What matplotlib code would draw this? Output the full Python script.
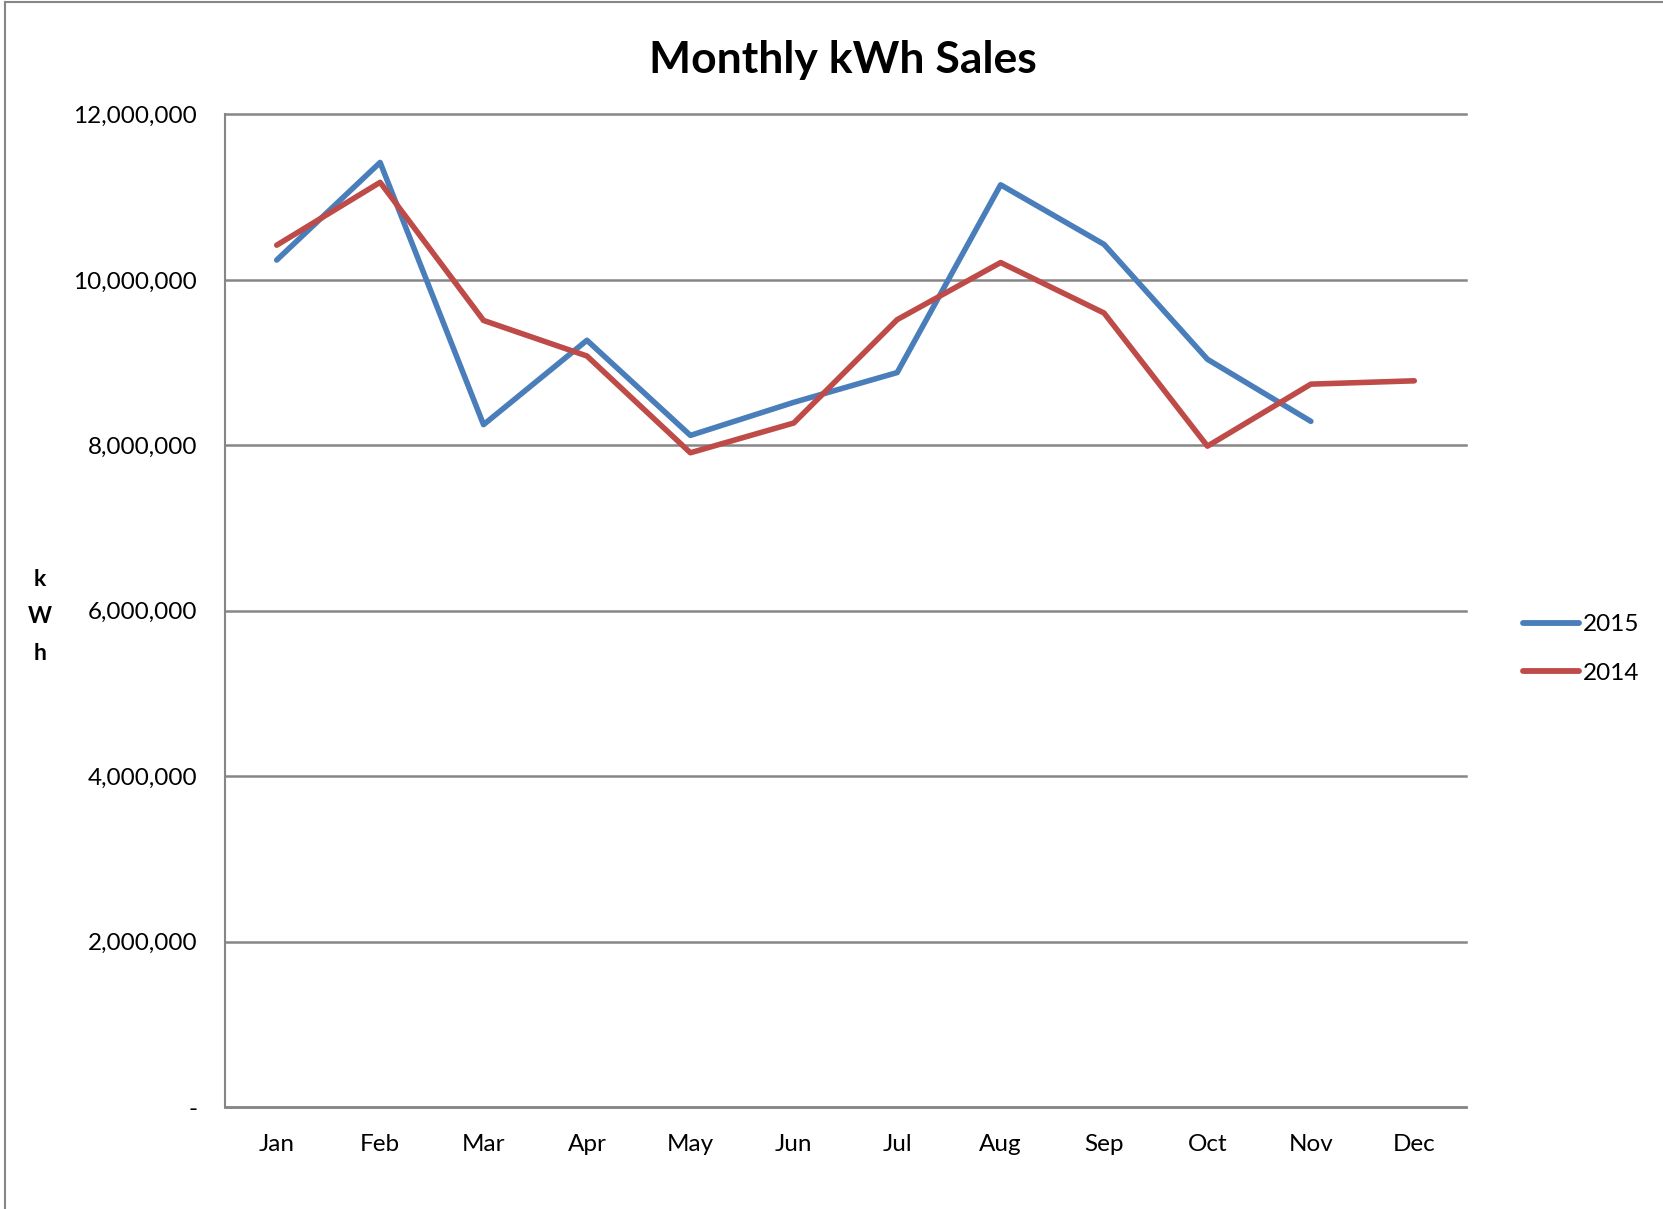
import matplotlib
matplotlib.use("Agg")
import matplotlib.pyplot as plt
from matplotlib.ticker import FuncFormatter
from matplotlib.lines import Line2D
import numpy as np

plt.rcParams['font.family'] = ['Lato', 'DejaVu Sans']

months = ["Jan", "Feb", "Mar", "Apr", "May", "Jun", "Jul", "Aug", "Sep", "Oct", "Nov", "Dec"]
sales_2015 = [10240000, 11420000, 8250000, 9270000, 8120000, 8520000, 8880000,
              11150000, 10430000, 9040000, 8290000]
sales_2014 = [10420000, 11180000, 9510000, 9080000, 7910000, 8270000, 9520000,
              10210000, 9600000, 7990000, 8740000, 8780000]
yticks = [0, 2000000, 4000000, 6000000, 8000000, 10000000, 12000000]

W, H = 1663, 1209
fig = plt.figure(figsize=(W / 100, H / 100), dpi=100)

# outer chart frame
fig.add_artist(Line2D([5 / W, 5 / W], [0, 1 - 2 / H], transform=fig.transFigure, color="#868686", lw=1.5))
fig.add_artist(Line2D([5 / W, 1], [1 - 2 / H, 1 - 2 / H], transform=fig.transFigure, color="#868686", lw=1.5))

left, right, top, bottom = 225, 1466, 114.5, 1107
ax = fig.add_axes([left / W, 1 - bottom / H, (right - left) / W, (bottom - top) / H])

x = np.arange(len(months))
ax.plot(x[:len(sales_2015)], sales_2015, color="#4A7EBB", lw=4.0, label="2015",
        solid_capstyle="round", zorder=3)
ax.plot(x[:len(sales_2014)], sales_2014, color="#BE4B48", lw=4.0, label="2014",
        solid_capstyle="round", zorder=3)

ax.set_xlim(-0.5, 11.5)
ax.set_ylim(0, 12000000)
ax.set_xticks(x)
ax.set_xticklabels(months)
ax.set_yticks(yticks)
ax.yaxis.set_major_formatter(FuncFormatter(lambda v, p: "-" if v == 0 else f"{int(v):,}"))
ax.tick_params(axis="both", length=0, labelsize=17.5, colors="black")
ax.tick_params(axis="y", pad=20)
ax.tick_params(axis="x", pad=19.5)

for t in yticks:
    ax.axhline(t, color="#868686", lw=1.8, clip_on=False, zorder=1)
for s in ["top", "right"]:
    ax.spines[s].set_visible(False)
ax.spines["left"].set_color("#868686")
ax.spines["left"].set_linewidth(1.5)
ax.spines["bottom"].set_color("#868686")
ax.spines["bottom"].set_linewidth(1.8)

fig.text(843 / W, 1 - 60 / H, "Monthly kWh Sales", ha="center", va="center",
         fontsize=32, fontweight="bold")

for i, ch in enumerate(["k", "W", "h"]):
    fig.text(40 / W, 1 - (579 + i * 37.5) / H, ch, ha="center", va="center",
             fontsize=16.5, fontweight="bold")

leg = fig.legend(loc="center left", bbox_to_anchor=(1523 / W, 1 - 649 / H), frameon=False,
                 fontsize=17.5, handlelength=2.3, handletextpad=0.15, labelspacing=1.15,
                 borderaxespad=0, borderpad=0)
for h in leg.get_lines():
    h.set_linewidth(4.2)

fig.savefig("out.png", dpi=100)
